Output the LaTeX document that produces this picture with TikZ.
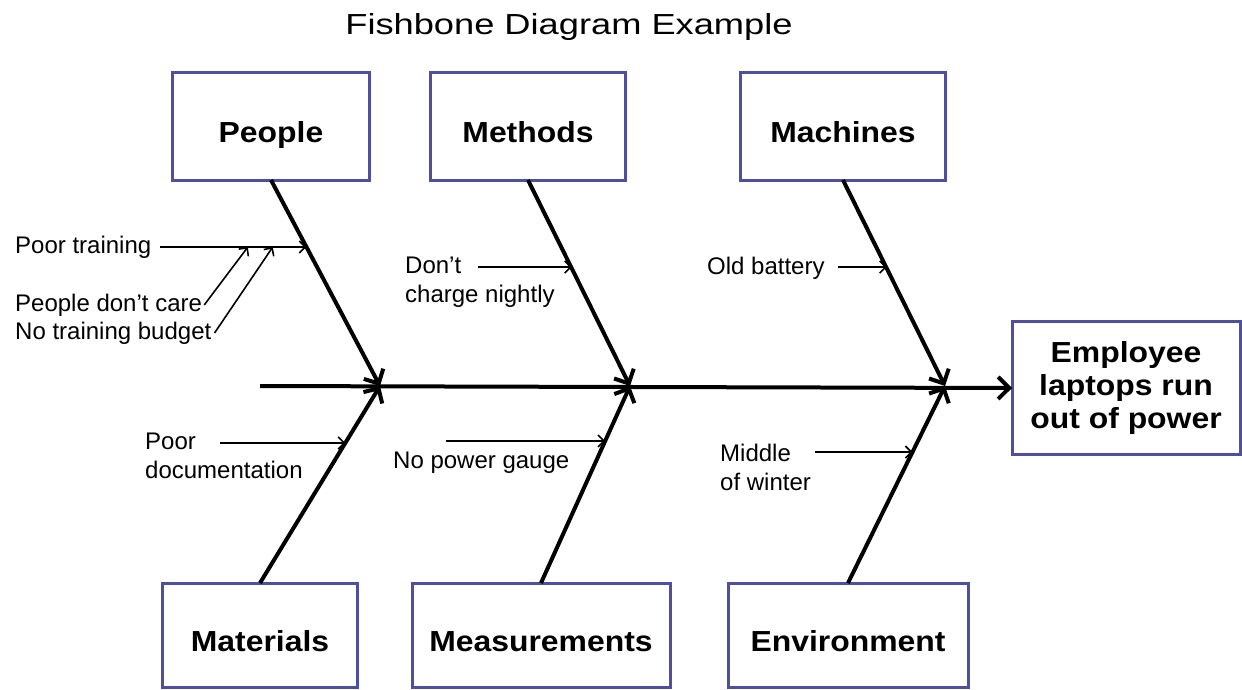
\documentclass[tikz,border=0pt]{standalone}
\usepackage{fontspec}
\setmainfont{Liberation Sans}
\newfontfamily\titlefont[FakeStretch=1.25]{Liberation Sans}
\newfontfamily\boxfont[FakeStretch=1.1]{Liberation Sans}
\usetikzlibrary{positioning,arrows.meta}
\definecolor{fishblue}{HTML}{4F4F9F}

\begin{document}
\begin{tikzpicture}[x=1pt, y=-1pt,
    catbox/.style={draw=fishblue, line width=3pt, fill=white, outer sep=0pt, inner sep=0pt,
      minimum height=108pt, text height=32pt, text depth=0pt, font=\boxfont\bfseries\fontsize{29}{33}\selectfont},
    bone/.style={line width=4pt, -{Straight Barb[length=11pt, width=22pt]}},
    sub/.style={line width=1.6pt, -{Straight Barb[length=6pt, width=12pt]}},
    cause/.style={anchor=west, align=left, inner sep=0pt, font=\fontsize{24}{29}\selectfont}]
      \fill[white] (0,0) rectangle (1242,689);
      \node[font=\titlefont\fontsize{29}{34}\selectfont, anchor=base] (title) at (569,34) {Fishbone Diagram Example};
      % cause boxes
      \node[catbox, minimum width=197pt] (people) at (271,126) {People};
      \node[catbox, minimum width=195pt] (methods) at (528,126) {Methods};
      \node[catbox, minimum width=205pt] (machines) at (843,126) {Machines};
      \node[catbox, minimum width=195pt, minimum height=104pt] (materials) at (260,635) {Materials};
      \node[catbox, minimum width=258pt, minimum height=104pt] (measurements) at (541,635) {Measurements};
      \node[catbox, minimum width=240pt, minimum height=104pt] (environment) at (848,635) {Environment};
      \node[catbox, minimum width=228pt, minimum height=133pt, text height=, text depth=, align=center] (effect) at (1126,388) {Employee\\laptops run\\out of power};
      % spine and bones
      \coordinate (tail) at (260,386);
      \coordinate (j1) at (380,386);
      \coordinate (j2) at (630,386);
      \coordinate (j3) at (945,386);
      \draw[bone] (tail) -- (effect.west);
      \draw[bone] (people.south) -- coordinate[pos=0.325] (hit1) (j1);
      \draw[bone] (methods.south) -- coordinate[pos=0.43] (hit2) (j2);
      \draw[bone] (machines.south) -- coordinate[pos=0.43] (hit3) (j3);
      \draw[bone] (materials.north) -- coordinate[pos=0.711] (hit4) (j1);
      \draw[bone] (measurements.north) -- coordinate[pos=0.721] (hit5) (j2);
      \draw[bone] (environment.north) -- coordinate[pos=0.665] (hit6) (j3);
      % sub causes
      \node[cause] (c1) at (15,247) {Poor training};
      \node[cause] (c2) at (15,305) {People don’t care};
      \node[cause] (c3) at (15,333) {No training budget};
      \node[cause] (c4) at (405,282) {Don’t\\charge nightly};
      \node[cause] (c5) at (707,268) {Old battery};
      \node[cause] (c6) at (145,456) {Poor\\documentation};
      \node[cause] (c7) at (393,463) {No power gauge};
      \node[cause] (c8) at (720,467) {Middle\\of winter};
      \coordinate (s1) at (160,247);
      \coordinate (s4) at (478,267);
      \coordinate (s5) at (838,267);
      \coordinate (s6) at (220,443);
      \coordinate (s7) at (446,441);
      \coordinate (s8) at (815,452);
      \draw[sub] (s1) -- coordinate[pos=0.6] (k1) coordinate[pos=0.77] (k2) (s1 -| hit1);
      \draw[sub] ([xshift=2pt]c2.east) -- (k1);
      \draw[sub] ([xshift=3pt]c3.east) -- (k2);
      \foreach \s/\h in {s4/hit2, s5/hit3, s6/hit4, s7/hit5, s8/hit6} {
        \draw[sub] (\s) -- (\s -| \h);
      }
\end{tikzpicture}
\end{document}
